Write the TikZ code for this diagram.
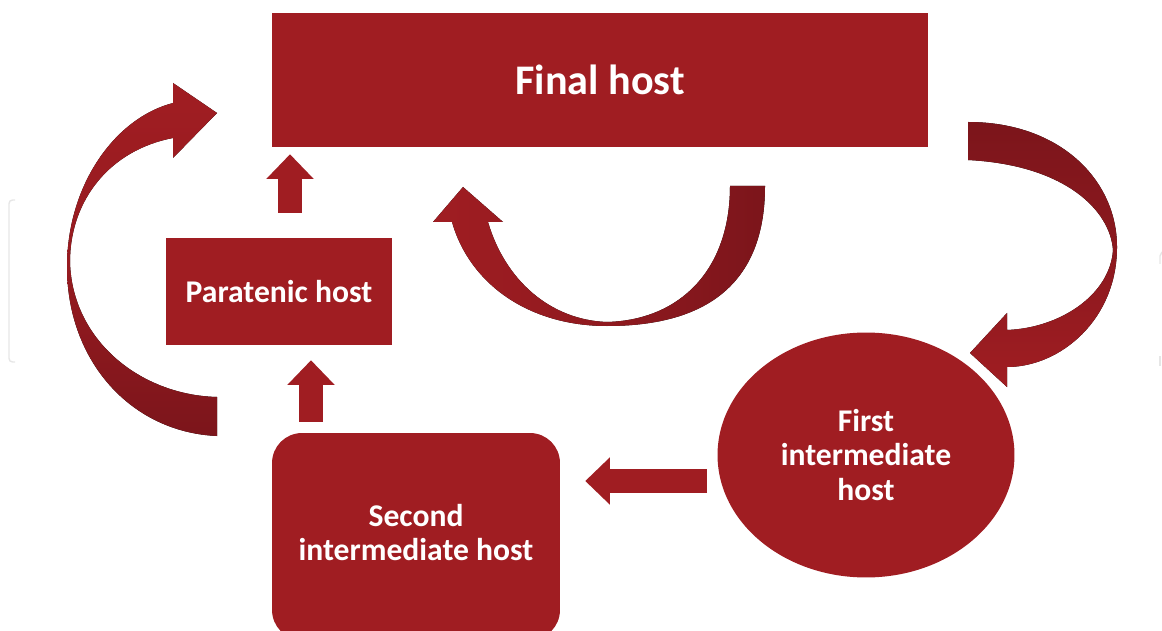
\documentclass[tikz,border=0pt]{standalone}
\usepackage{fontspec}
\setmainfont{Carlito}
\usepackage{xcolor}
\usepackage{tikz}
\usetikzlibrary{arrows.meta}
\usetikzlibrary{calc}
\usetikzlibrary{positioning}
\usetikzlibrary{shapes.geometric}

\definecolor{hostred}{RGB}{160,29,34}
\definecolor{hostdark}{RGB}{124,21,27}
\definecolor{ghostgrey}{RGB}{230,230,230}

\begin{document}
\begin{tikzpicture}[x=0.02cm,y=-0.02cm,
    host/.style={fill=hostred,text=white,align=center,inner sep=0pt,
      font=\bfseries\fontsize{18}{19.5}\selectfont},
    blockarrow/.style={draw=hostred,line width=13.7pt,
      -{Triangle[width=27pt,length=14pt,line width=0pt]}},
    ghostline/.style={draw=ghostgrey,line width=0.8pt}]
    \useasboundingbox (0,0) rectangle (1162,631);
    \draw[ghostline,rounded corners=2pt] (15,200) -- (9,200) -- (9,362) -- (15,362);
    \draw[ghostline] (1162,252) -- (1160,256) -- (1160,264);
    \draw[ghostline] (1160,356) -- (1160,366);

    \node[host,minimum width=13.12cm,minimum height=2.68cm,
      font=\bfseries\fontsize{24}{28}\selectfont] (final) at (600,80) {Final host};
    \node[host,minimum width=4.52cm,minimum height=2.14cm] (para) at (279,291.5) {Paratenic host};
    \node[host,rounded corners=0.6cm,minimum width=5.76cm,minimum height=4.14cm] (second) at (416,536.5)
      {\raisebox{4pt}{\begin{tabular}{@{}c@{}}Second\\intermediate host\end{tabular}}};
    \node[host,ellipse,minimum width=5.94cm,minimum height=4.9cm] (first) at (866,455) {First\\intermediate\\host};

    \draw[blockarrow] ($(para.north)+(11,-25)$) -- ($(para.north |- final.south)+(11,7)$);
    \draw[blockarrow] ($(second.north -| para.south)+(32,-11)$) -- ($(para.south)+(32,15)$);
    \draw[blockarrow] ($(first.west)+(-10,26)$) -- ($(second.east |- first.west)+(25,26)$);

    % curved arrows
    \fill[top color=hostred,bottom color=hostdark,middle color=hostred!75!hostdark]
      (217,436) .. controls (130,432) and (67,360) .. (67,267)
      .. controls (67,185) and (115,118) .. (173,103) -- (173,83) -- (217,113) -- (173,158) -- (173,138)
      .. controls (110,150) and (70,200) .. (70,262)
      .. controls (72,340) and (140,395) .. (217,397) -- cycle;
    \fill[top color=hostdark,bottom color=hostred,middle color=hostdark!55!hostred]
      (968,122) .. controls (1060,122) and (1117,180) .. (1117,247)
      .. controls (1117,320) and (1060,367) .. (1007,367) -- (1007,387) -- (970,353) -- (1007,313) -- (1007,330)
      .. controls (1060,328) and (1110,295) .. (1113,250)
      .. controls (1110,210) and (1065,165) .. (968,160) -- cycle;
    \fill[left color=hostred,right color=hostdark,middle color=hostred!55!hostdark]
      (765,186) .. controls (765,285) and (705,326) .. (607,326)
      .. controls (530,326) and (470,285) .. (452,222) -- (433,222) -- (463,187) -- (503,222) -- (488,222)
      .. controls (505,280) and (550,320) .. (607,322)
      .. controls (680,320) and (730,270) .. (730,186) -- cycle;
\end{tikzpicture}
\end{document}
